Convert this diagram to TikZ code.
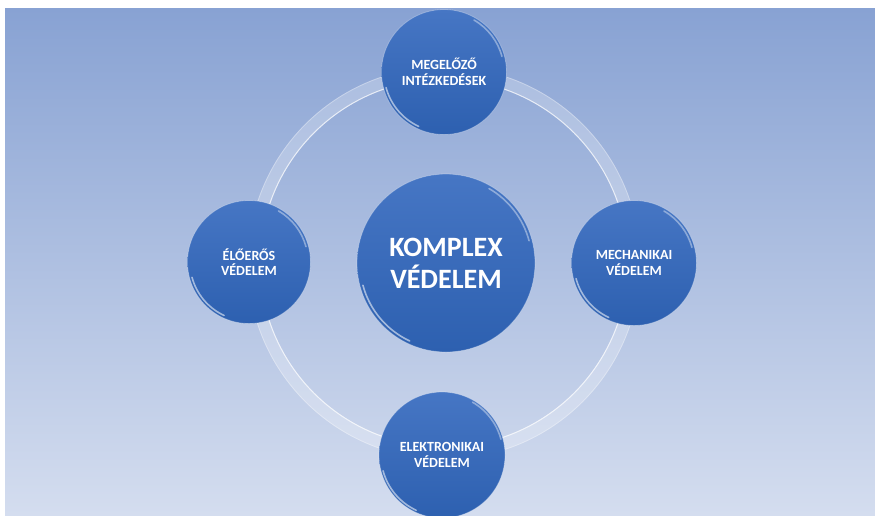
\documentclass[tikz,border=0pt]{standalone}
\usepackage{fontspec}
\setmainfont{Carlito}
\definecolor{bgtop}{HTML}{88A2D3}
\definecolor{bgbot}{HTML}{D4DDEF}
\definecolor{balltop}{HTML}{4676C4}
\definecolor{ballbot}{HTML}{2D60B0}
\tikzset{
  ball/.style={circle, inner sep=0pt, top color=balltop, bottom color=ballbot,
    text=white, font=\bfseries, align=center, draw=white, draw opacity=0.3, line width=0.8pt},
  smalltxt/.style={font=\fontsize{14}{15.5}\selectfont\bfseries},
  bigtxt/.style={font=\fontsize{28}{32}\selectfont\bfseries},
  rim/.style={white, opacity=0.55, line width=1.6pt, line cap=round}
}
\begin{document}
\begin{tikzpicture}[x=1pt,y=-1pt]
\useasboundingbox (0,0) rectangle (875,515);
\fill[white] (0,0) rectangle (875,515);
\shade[top color=bgtop, bottom color=bgbot] (5,8) rectangle (875,515);
% ring
\coordinate (o) at (444,263);
\draw[white, opacity=0.25, line width=13pt] (o) circle[radius=190pt];
\draw[white, opacity=0.7, line width=1pt] (o) circle[radius=184pt];
\draw[white, opacity=0.3, line width=0.8pt] (o) circle[radius=196pt];
% nodes
\node[ball, smalltxt, minimum size=125pt] (t) at (444,72) {MEGELŐZŐ\\INTÉZKEDÉSEK};
\node[ball, smalltxt, minimum size=123pt] (l) at (249,262) {ÉLŐERŐS\\VÉDELEM};
\node[ball, smalltxt, minimum size=125pt] (r) at (634,263) {MECHANIKAI\\VÉDELEM};
\node[ball, smalltxt, minimum size=126pt] (b) at (442,455) {ELEKTRONIKAI\\VÉDELEM};
\node[ball, bigtxt, minimum size=178pt] (c) at (446,263) {KOMPLEX\\VÉDELEM};
% rim highlights
\foreach \n/\rr in {t/60,l/59,r/60,b/61,c/86}{
  \draw[rim] (\n.center) ++(195:\rr pt) arc[start angle=195, end angle=245, radius=\rr pt];
  \draw[rim, opacity=0.4] (\n.center) ++(15:\rr pt) arc[start angle=15, end angle=60, radius=\rr pt];
}
\end{tikzpicture}
\end{document}
